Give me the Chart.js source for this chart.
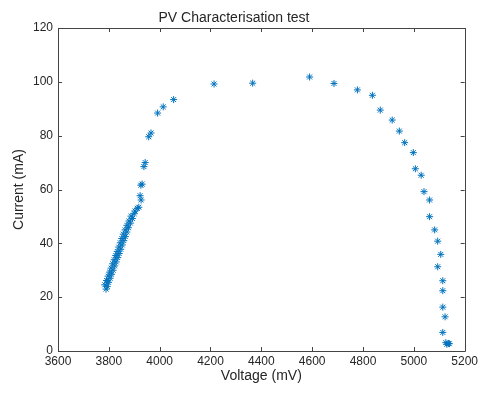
<!DOCTYPE html>
<html>
<head>
<meta charset="utf-8">
<script src="https://cdn.jsdelivr.net/npm/chart.js@4/dist/chart.umd.min.js"></script>
<style>
  html, body { margin: 0; padding: 0; background: #fff; }
  canvas { display: block; }
</style>
</head>
<body>
<canvas id="c" width="481" height="393"></canvas>
<script>
// Data (Voltage in mV, Current in mA)
const voltage = [
  3789, 3794, 3784, 3799, 3791, 3805, 3797, 3811, 3803, 3817,
  3809, 3823, 3815, 3829, 3821, 3835, 3827, 3841, 3833, 3847,
  3839, 3853, 3845, 3859, 3851, 3865, 3857, 3871, 3864, 3877,
  3871, 3885, 3879, 3893, 3887, 3900, 3903, 3912, 3918,
  3927, 3923, 3926, 3931, 3938, 3943, 3957, 3966, 3992, 4014, 4055,
  4214, 4366, 4590, 4686, 4778, 4837, 4868, 4915, 4943, 4964,
  4998, 5006, 5029, 5040, 5062, 5062, 5082, 5094, 5106, 5094, 5114,
  5114, 5114, 5123, 5114, 5126, 5136, 5130, 5140
];
const current = [
  23.0, 24.0, 24.6, 25.5, 26.2, 27.0, 27.8, 28.5, 29.3, 30.0,
  30.8, 31.6, 32.4, 33.1, 33.9, 34.7, 35.5, 36.2, 37.0, 37.8,
  38.6, 39.4, 40.2, 41.0, 41.8, 42.5, 43.4, 44.2, 45.0, 45.8,
  46.7, 47.5, 48.3, 49.2, 50.1, 51.0, 52.0, 53.0, 53.4,
  56.1, 57.7, 61.6, 62.0, 68.5, 70.0, 79.6, 81.0, 88.4, 90.7, 93.4,
  99.2, 99.5, 101.8, 99.4, 97.0, 95.0, 89.5, 85.8, 81.7, 77.4,
  73.7, 67.7, 65.3, 59.2, 56.1, 49.9, 45.0, 40.8, 35.9, 31.3, 26.1,
  22.4, 16.3, 12.7, 6.9, 3.1, 2.8, 2.5, 2.7
];
const xTicks = [3600, 3800, 4000, 4200, 4400, 4600, 4800, 5000, 5200];
const yTicks = [0, 20, 40, 60, 80, 100, 120];

const points = voltage.map((v, i) => ({ x: v, y: current[i] }));
const FONT = "'Liberation Sans', Arial, Helvetica, sans-serif";
const TXT = '#262626';

const boxTicks = {
  id: 'boxTicks',
  afterDraw(chart) {
    const { ctx, chartArea: a, scales } = chart;
    ctx.save();
    ctx.strokeStyle = '#444';
    ctx.lineWidth = 1;
    ctx.beginPath();
    ctx.rect(Math.round(a.left) + 0.5, Math.round(a.top) + 0.5,
             Math.round(a.right - a.left), Math.round(a.bottom - a.top));
    ctx.stroke();
    const L = 4;
    ctx.beginPath();
    xTicks.forEach(t => {
      const px = Math.round(scales.x.getPixelForValue(t)) + 0.5;
      ctx.moveTo(px, a.bottom); ctx.lineTo(px, a.bottom - L);
      ctx.moveTo(px, a.top); ctx.lineTo(px, a.top + L);
    });
    yTicks.forEach(t => {
      const py = Math.round(scales.y.getPixelForValue(t)) + 0.5;
      ctx.moveTo(a.left, py); ctx.lineTo(a.left + L, py);
      ctx.moveTo(a.right, py); ctx.lineTo(a.right - L, py);
    });
    ctx.stroke();
    ctx.restore();
  }
};

new Chart(document.getElementById('c'), {
  type: 'scatter',
  data: {
    datasets: [{
      data: points,
      pointStyle: 'star',
      pointRadius: 3.5,
      pointBorderWidth: 1,
      borderColor: '#0072BD',
      backgroundColor: '#0072BD'
    }]
  },
  options: {
    responsive: false,
    animation: false,
    layout: { padding: { left: 0, right: 13, top: 0, bottom: 0 } },
    plugins: {
      legend: { display: false },
      tooltip: { enabled: false },
      title: {
        display: true,
        text: 'PV Characterisation test',
        color: TXT,
        font: { family: FONT, size: 14, weight: 'normal', lineHeight: 1.2 },
        padding: { top: 9.6, bottom: 1.6 }
      }
    },
    scales: {
      x: {
        type: 'linear',
        min: 3600, max: 5200,
        afterBuildTicks: s => { s.ticks = xTicks.map(v => ({ value: v })); },
        afterFit: s => { s.height = 42; },
        grid: { display: false, drawTicks: false },
        border: { display: false },
        ticks: { color: TXT, font: { family: FONT, size: 12 }, padding: 3, maxRotation: 0, autoSkip: false,
                 callback: v => String(v) },
        title: {
          display: true, text: 'Voltage (mV)', color: TXT,
          font: { family: FONT, size: 14, lineHeight: 1.2 },
          padding: { top: 0, bottom: 8 }
        }
      },
      y: {
        type: 'linear',
        min: 0, max: 120,
        afterBuildTicks: s => { s.ticks = yTicks.map(v => ({ value: v })); },
        afterFit: s => { s.width = 58; },
        grid: { display: false, drawTicks: false },
        border: { display: false },
        ticks: { color: TXT, font: { family: FONT, size: 12 }, padding: 5, autoSkip: false,
                 callback: v => String(v) },
        title: {
          display: true, text: 'Current (mA)', color: TXT,
          font: { family: FONT, size: 14, lineHeight: 1.2 },
          padding: { top: 11, bottom: 0 }
        }
      }
    }
  },
  plugins: [boxTicks]
});
</script>
</body>
</html>
